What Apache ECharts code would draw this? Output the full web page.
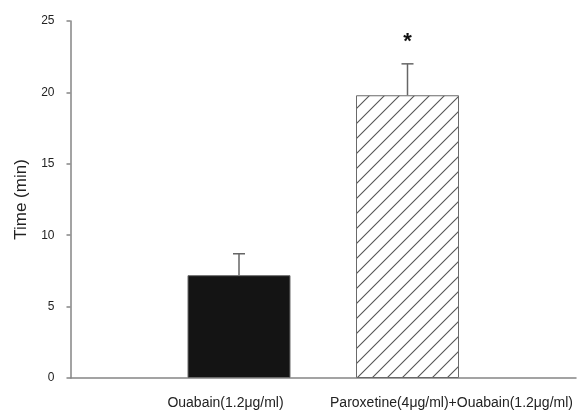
<!DOCTYPE html>
<html>
<head>
<meta charset="utf-8">
<script src="https://cdn.jsdelivr.net/npm/echarts@6/dist/echarts.min.js"></script>
<style>
html,body{margin:0;padding:0;background:#fff;}
#chart{width:579px;height:412px;}
</style>
</head>
<body>
<div id="chart"></div>
<script>
// Data
var categories = ['', 'Ouabain(1.2\u03bcg/ml)', 'Paroxetine(4\u03bcg/ml)+Ouabain(1.2\u03bcg/ml)', ''];
var meanValues = [null, 7.2, 19.8, null];
var errorValues = [null, 1.5, 2.2, null];
var significance = ['', '', '*', ''];
var yTicks = [0, 5, 10, 15, 20, 25];

// hatch pattern for second bar
function makeHatch() {
  var s = 15;
  var c = document.createElement('canvas');
  c.width = s; c.height = s;
  var g = c.getContext('2d');
  g.fillStyle = '#ffffff';
  g.fillRect(0, 0, s, s);
  g.strokeStyle = '#555555';
  g.lineWidth = 1.1;
  g.beginPath();
  g.moveTo(-2, s + 2); g.lineTo(s + 2, -2);
  g.moveTo(-2, 2); g.lineTo(2, -2);
  g.moveTo(s - 2, s + 2); g.lineTo(s + 2, s - 2);
  g.stroke();
  return c;
}
var hatch = makeHatch();

var barData = meanValues.map(function (v, i) {
  if (v === null) return null;
  if (i === 2) {
    return { value: v, itemStyle: { color: { image: hatch, repeat: 'repeat' }, borderColor: '#6a6a6a', borderWidth: 1 } };
  }
  return { value: v, itemStyle: { color: '#141414', borderColor: '#6a6a6a', borderWidth: 1 } };
});

var errData = meanValues.map(function (v, i) {
  return v === null ? [i, null, null, ''] : [i, v, v + errorValues[i], significance[i]];
});

var chart = echarts.init(document.getElementById('chart'));
chart.setOption({
  animation: false,
  backgroundColor: '#ffffff',
  grid: { left: 70.5, right: -4, top: 21, bottom: 34 },
  xAxis: {
    type: 'category',
    data: categories.map(function (c, i) {
      if (i === 1) return { value: c, textStyle: { padding: [0, 27, 0, 0] } };
      if (i === 2) return { value: c, textStyle: { padding: [0, 0, 0, 88] } };
      return c;
    }),
    boundaryGap: false,
    axisLine: { lineStyle: { color: '#858585', width: 1.5 } },
    axisTick: { show: false },
    axisLabel: { interval: 0, margin: 18, fontSize: 14, color: '#222', fontFamily: 'Liberation Sans, Arial, sans-serif' }
  },
  yAxis: {
    type: 'value',
    min: 0, max: 25, interval: 5,
    name: 'Time (min)',
    nameLocation: 'middle',
    nameGap: 38,
    nameTextStyle: { fontSize: 17, color: '#222', fontFamily: 'Liberation Sans, Arial, sans-serif' },
    axisLine: { show: true, lineStyle: { color: '#858585', width: 1.5 } },
    axisTick: { show: true, length: 4, lineStyle: { color: '#858585', width: 1.5 } },
    splitLine: { show: false },
    axisLabel: { margin: 16, fontSize: 12, color: '#222', fontFamily: 'Liberation Sans, Arial, sans-serif',
      formatter: function (v) { return yTicks.indexOf(v) >= 0 ? String(v) : ''; } }
  },
  series: [
    {
      type: 'bar',
      data: barData,
      barWidth: 103
    },
    {
      type: 'custom',
      data: errData,
      z: 5,
      renderItem: function (params, api) {
        var v = api.value(1);
        if (v === null || isNaN(v)) return;
        var x = api.value(0);
        var base = api.coord([x, v]);
        var top = api.coord([x, api.value(2)]);
        var hw = 6;
        var children = [
          { type: 'line', shape: { x1: base[0], y1: base[1], x2: top[0], y2: top[1] }, style: { stroke: '#666', lineWidth: 1.5 } },
          { type: 'line', shape: { x1: top[0] - hw, y1: top[1], x2: top[0] + hw, y2: top[1] }, style: { stroke: '#666', lineWidth: 1.5 } }
        ];
        var sig = api.value(3);
        if (sig) {
          children.push({ type: 'text', style: { text: sig, x: top[0], y: top[1] - 22, align: 'center', verticalAlign: 'middle', fontSize: 22, fontWeight: 'bold', fill: '#111', fontFamily: 'Liberation Sans, Arial, sans-serif' } });
        }
        return { type: 'group', children: children };
      }
    }
  ]
});
</script>
</body>
</html>
